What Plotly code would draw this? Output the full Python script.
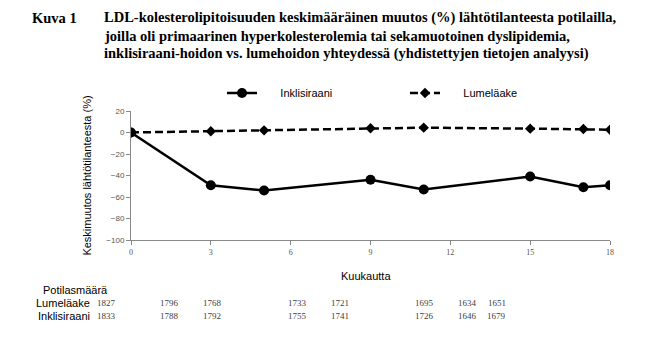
import plotly.graph_objects as go

months = [0, 3, 5, 9, 11, 15, 17, 18]
inklisiraani = [0, -49, -54, -44, -53, -41, -51, -49]
lumelaake = [0, 1.1, 2.0, 3.9, 4.5, 3.6, 3.2, 2.6]
x_ticks = [0, 3, 6, 9, 12, 15, 18]
y_ticks = [20, 0, -20, -40, -60, -80, -100]
n_lumelaake = [1827, 1796, 1768, 1733, 1721, 1695, 1634, 1651]
n_inklisiraani = [1833, 1788, 1792, 1755, 1741, 1726, 1646, 1679]

W, H = 656, 351
L, R, T, B = 131, 46, 111, 111
pw, ph = W - L - R, H - T - B


def px(xpix):
    return (xpix - L) / pw


def py(ypix):
    return (H - B - ypix) / ph


pad = "\u00a0" * 6

fig = go.Figure()
fig.add_trace(go.Scatter(
    x=months, y=inklisiraani, name=pad + "Inklisiraani", mode="lines+markers",
    line=dict(color="black", width=2.5),
    marker=dict(symbol="circle", size=10, color="black"),
))
fig.add_trace(go.Scatter(
    x=months, y=lumelaake, name=pad + "Lumeläake", mode="lines+markers",
    line=dict(color="black", width=2.5, dash="8px,4px"),
    marker=dict(symbol="diamond", size=8, color="black"),
))

fig.update_xaxes(
    range=[0, 18], tickvals=x_ticks, showgrid=False, zeroline=False,
    showline=True, linecolor="#888888", linewidth=1,
    ticks="outside", ticklen=4, tickcolor="#888888",
    tickfont=dict(family="Liberation Serif", size=8, color="#555555"),
)
fig.update_yaxes(
    range=[-100, 20], tickvals=y_ticks, showgrid=False, zeroline=False,
    showline=True, linecolor="#888888", linewidth=1,
    ticks="outside", ticklen=4, tickcolor="#888888",
    tickfont=dict(family="Liberation Sans, Arial", size=8, color="#555555"),
    title=dict(text="Keskimuutos lähtötilanteesta (%)",
               font=dict(family="Liberation Sans, Arial", size=11, color="black"),
               standoff=12),
)

ann = []
title_font = dict(family="Liberation Serif, Times New Roman", size=14.5, color="black")
ann.append(dict(xref="paper", yref="paper", x=px(30), y=py(17.5),
                text="<b>Kuva 1</b>", showarrow=False, xanchor="left", yanchor="middle",
                font=title_font))
title_lines = [
    "LDL-kolesterolipitoisuuden keskimääräinen muutos (%) lähtötilanteesta potilailla,",
    "joilla oli primaarinen hyperkolesterolemia tai sekamuotoinen dyslipidemia,",
    "inklisiraani-hoidon vs. lumehoidon yhteydessä (yhdistettyjen tietojen analyysi)",
]
for i, line in enumerate(title_lines):
    ann.append(dict(xref="paper", yref="paper", x=px(102), y=py(17.5 + 18 * i),
                    text="<b>" + line + "</b>", showarrow=False, xanchor="left",
                    yanchor="middle", font=title_font))

lab_font = dict(family="Liberation Sans, Arial", size=11, color="black")
ann.append(dict(xref="paper", yref="paper", x=px(366), y=py(276), text="Kuukautta",
                showarrow=False, xanchor="center", yanchor="middle", font=lab_font))
ann.append(dict(xref="paper", yref="paper", x=px(41), y=py(290), text="Potilasmäärä",
                showarrow=False, xanchor="left", yanchor="middle", font=lab_font))
ann.append(dict(xref="paper", yref="paper", x=px(92), y=py(303), text="Lumeläake",
                showarrow=False, xanchor="right", yanchor="middle", font=lab_font))
ann.append(dict(xref="paper", yref="paper", x=px(92), y=py(316), text="Inklisiraani",
                showarrow=False, xanchor="right", yanchor="middle", font=lab_font))

cnt_font = dict(family="Liberation Serif, Times New Roman", size=9, color="#404040")


def table_x(m):
    # count table column spacing (narrower than the chart axis)
    return px(106 + 21.25 * m + (8 if m == 18 else 0))


for m, a, b in zip(months, n_lumelaake, n_inklisiraani):
    ann.append(dict(xref="paper", yref="paper", x=table_x(m), y=py(303), text=str(a),
                    showarrow=False, xanchor="center", yanchor="middle", font=cnt_font))
    ann.append(dict(xref="paper", yref="paper", x=table_x(m), y=py(316), text=str(b),
                    showarrow=False, xanchor="center", yanchor="middle", font=cnt_font))

fig.update_layout(
    width=W, height=H, margin=dict(l=L, r=R, t=T, b=B),
    paper_bgcolor="white", plot_bgcolor="white",
    showlegend=True,
    legend=dict(orientation="h", x=px(222), y=py(93), xanchor="left", yanchor="middle",
                font=dict(family="Liberation Sans, Arial", size=11, color="black"),
                entrywidth=138, entrywidthmode="pixels", bgcolor="rgba(0,0,0,0)"),
    annotations=ann,
)

fig.write_html("out.html")
